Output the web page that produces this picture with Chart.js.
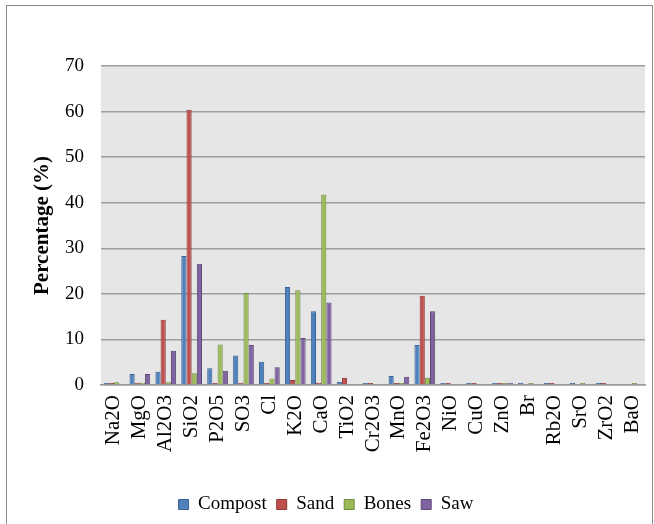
<!DOCTYPE html>
<html>
<head>
<meta charset="utf-8">
<script src="https://cdn.jsdelivr.net/npm/chart.js@4/dist/chart.umd.min.js"></script>
<style>
  body { margin: 0; background: #fff; }
  canvas { display: block; }
</style>
</head>
<body>
<canvas id="chartOxidos" width="654" height="524"></canvas>
<script>
// datos (% en peso)
var oxides = ['Na2O', 'MgO', 'Al2O3', 'SiO2', 'P2O5', 'SO3', 'Cl', 'K2O', 'CaO', 'TiO2', 'Cr2O3',
  'MnO', 'Fe2O3', 'NiO', 'CuO', 'ZnO', 'Br', 'Rb2O', 'SrO', 'ZrO2', 'BaO'];
var compost = [0.2, 2.4, 2.9, 28.3, 3.7, 6.5, 5.1, 21.5, 16.2, 0.7, 0.2, 2.0, 8.8, 0.2, 0.2, 0.4, 0.2, 0.2, 0.2, 0.2, null];
var sand = [0.2, 0.5, 14.3, 60.4, 0.2, 0.5, 0.2, 1.1, 0.5, 1.6, 0.2, 0.2, 19.6, 0.2, 0.2, 0.2, null, 0.2, null, 0.2, null];
var bones = [0.6, 0.5, 0.6, 2.6, 8.9, 20.2, 1.4, 20.8, 41.8, null, null, 0.2, 1.6, null, null, 0.2, 0.2, null, 0.2, null, 0.2];
var saw = [null, 2.4, 7.5, 26.6, 3.1, 8.8, 3.9, 10.3, 18.1, null, null, 1.8, 16.2, null, null, 0.5, null, null, null, null, null];
var yTicks = [0, 10, 20, 30, 40, 50, 60, 70];

var serif = 'Liberation Serif';

// fondo gris del area y marco exterior
var fondo = {
  id: 'fondo',
  beforeDraw: function(chart) {
    var ctx = chart.ctx, a = chart.chartArea;
    ctx.save();
    ctx.fillStyle = '#e6e6e6';
    ctx.fillRect(a.left, a.top, a.right - a.left, a.bottom - a.top);
    ctx.strokeStyle = '#8a8a8a';
    ctx.lineWidth = 1;
    ctx.strokeRect(6.5, 5.5, 646, 540);
    ctx.restore();
  }
};

function serie(label, data, fill, border) {
  return { label: label, data: data, backgroundColor: fill, borderColor: border, borderWidth: 1 };
}

window.addEventListener('DOMContentLoaded', function() {
  const ctx = document.getElementById('chartOxidos').getContext('2d');
  new Chart(ctx, {
    type: 'bar',
    data: {
      labels: oxides,
      datasets: [
        serie('Compost', compost, '#4f81bd', '#3b6393'),
        serie('Sand', sand, '#c0504d', '#8e3835'),
        serie('Bones', bones, '#9bbb59', '#71893f'),
        serie('Saw', saw, '#8064a2', '#5c4776')
      ]
    },
    options: {
      responsive: false,
      animation: false,
      layout: { padding: { left: 7, top: 66, right: 9, bottom: 0 } },
      datasets: { bar: { categoryPercentage: 0.8, barPercentage: 1.0, minBarLength: 2 } },
      plugins: {
        legend: {
          position: 'bottom',
          labels: {
            color: '#000',
            boxWidth: 10,
            boxHeight: 10,
            padding: 10,
            font: { family: serif, size: 19 }
          }
        },
        title: { display: false },
        tooltip: { enabled: false }
      },
      scales: {
        x: {
          grid: { display: false, drawTicks: false },
          border: { display: true, color: '#9a9a9a', width: 1.5 },
          ticks: {
            color: '#000',
            font: { family: serif, size: 21 },
            minRotation: 90,
            maxRotation: 90,
            autoSkip: false,
            padding: 10
          },
          afterFit: function(scale) {
            scale.height = 100;
            scale.paddingLeft = 0;
            scale.paddingRight = 0;
          }
        },
        y: {
          min: 0,
          max: 70,
          afterBuildTicks: function(scale) {
            scale.ticks = yTicks.map(function(v) { return { value: v }; });
          },
          grid: { color: '#9e9e9e', lineWidth: 1.5, drawTicks: false },
          border: { display: false },
          ticks: {
            color: '#000',
            font: { family: serif, size: 19 },
            padding: 17
          },
          title: {
            display: true,
            text: 'Percentage (%)',
            color: '#000',
            font: { family: serif, size: 21, weight: 'bold' },
            padding: { top: 23, bottom: 0 }
          },
          afterFit: function(scale) { scale.width = 94; }
        }
      }
    },
    plugins: [fondo]
  });
});
</script>
</body>
</html>
